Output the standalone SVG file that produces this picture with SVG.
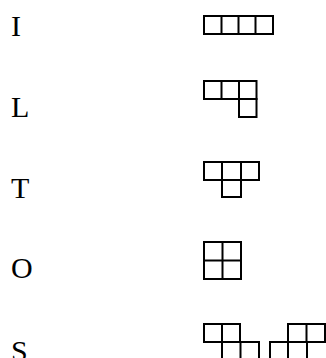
<svg xmlns="http://www.w3.org/2000/svg" width="326" height="358" viewBox="0 0 326 358">
<style>
text{font-family:"Liberation Serif","Times New Roman",serif;font-size:30px;fill:#000}
.c{fill:none;stroke:#000;stroke-width:2}
</style>
<rect width="326" height="358" fill="#fff"/>
<g id="label-I"><text x="11" y="35.5">I</text></g>
<g id="label-L"><text x="11" y="116.5">L</text></g>
<g id="label-T"><text x="11" y="197.5">T</text></g>
<g id="label-O"><text x="11" y="278">O</text></g>
<g id="label-S"><text x="11" y="361">S</text></g>
<g id="shape-I" class="c">
<rect x="204" y="16" width="69" height="18"/>
<path d="M221.5 16V34M238.5 16V34M255.5 16V34"/>
</g>
<g id="shape-L" class="c">
<rect x="204" y="81" width="52.5" height="18"/>
<path d="M221.5 81V99M239 81V99"/>
<rect x="239" y="99" width="17.5" height="18"/>
</g>
<g id="shape-T" class="c">
<rect x="204" y="162" width="55" height="18"/>
<path d="M222 162V180M241 162V180"/>
<rect x="222" y="180" width="19" height="17"/>
</g>
<g id="shape-O" class="c">
<rect x="204" y="242" width="37" height="37"/>
<path d="M222.5 242V279M204 260.5H241"/>
</g>
<g id="shape-S1" class="c">
<rect x="204" y="324" width="36" height="18"/>
<path d="M222 324V342"/>
<rect x="222" y="342" width="37" height="18"/>
<path d="M240.5 342V360"/>
</g>
<g id="shape-S2" class="c">
<rect x="288" y="324" width="37" height="18"/>
<path d="M306.5 324V342"/>
<rect x="270" y="342" width="37" height="18"/>
<path d="M288 342V360"/>
</g>
</svg>
